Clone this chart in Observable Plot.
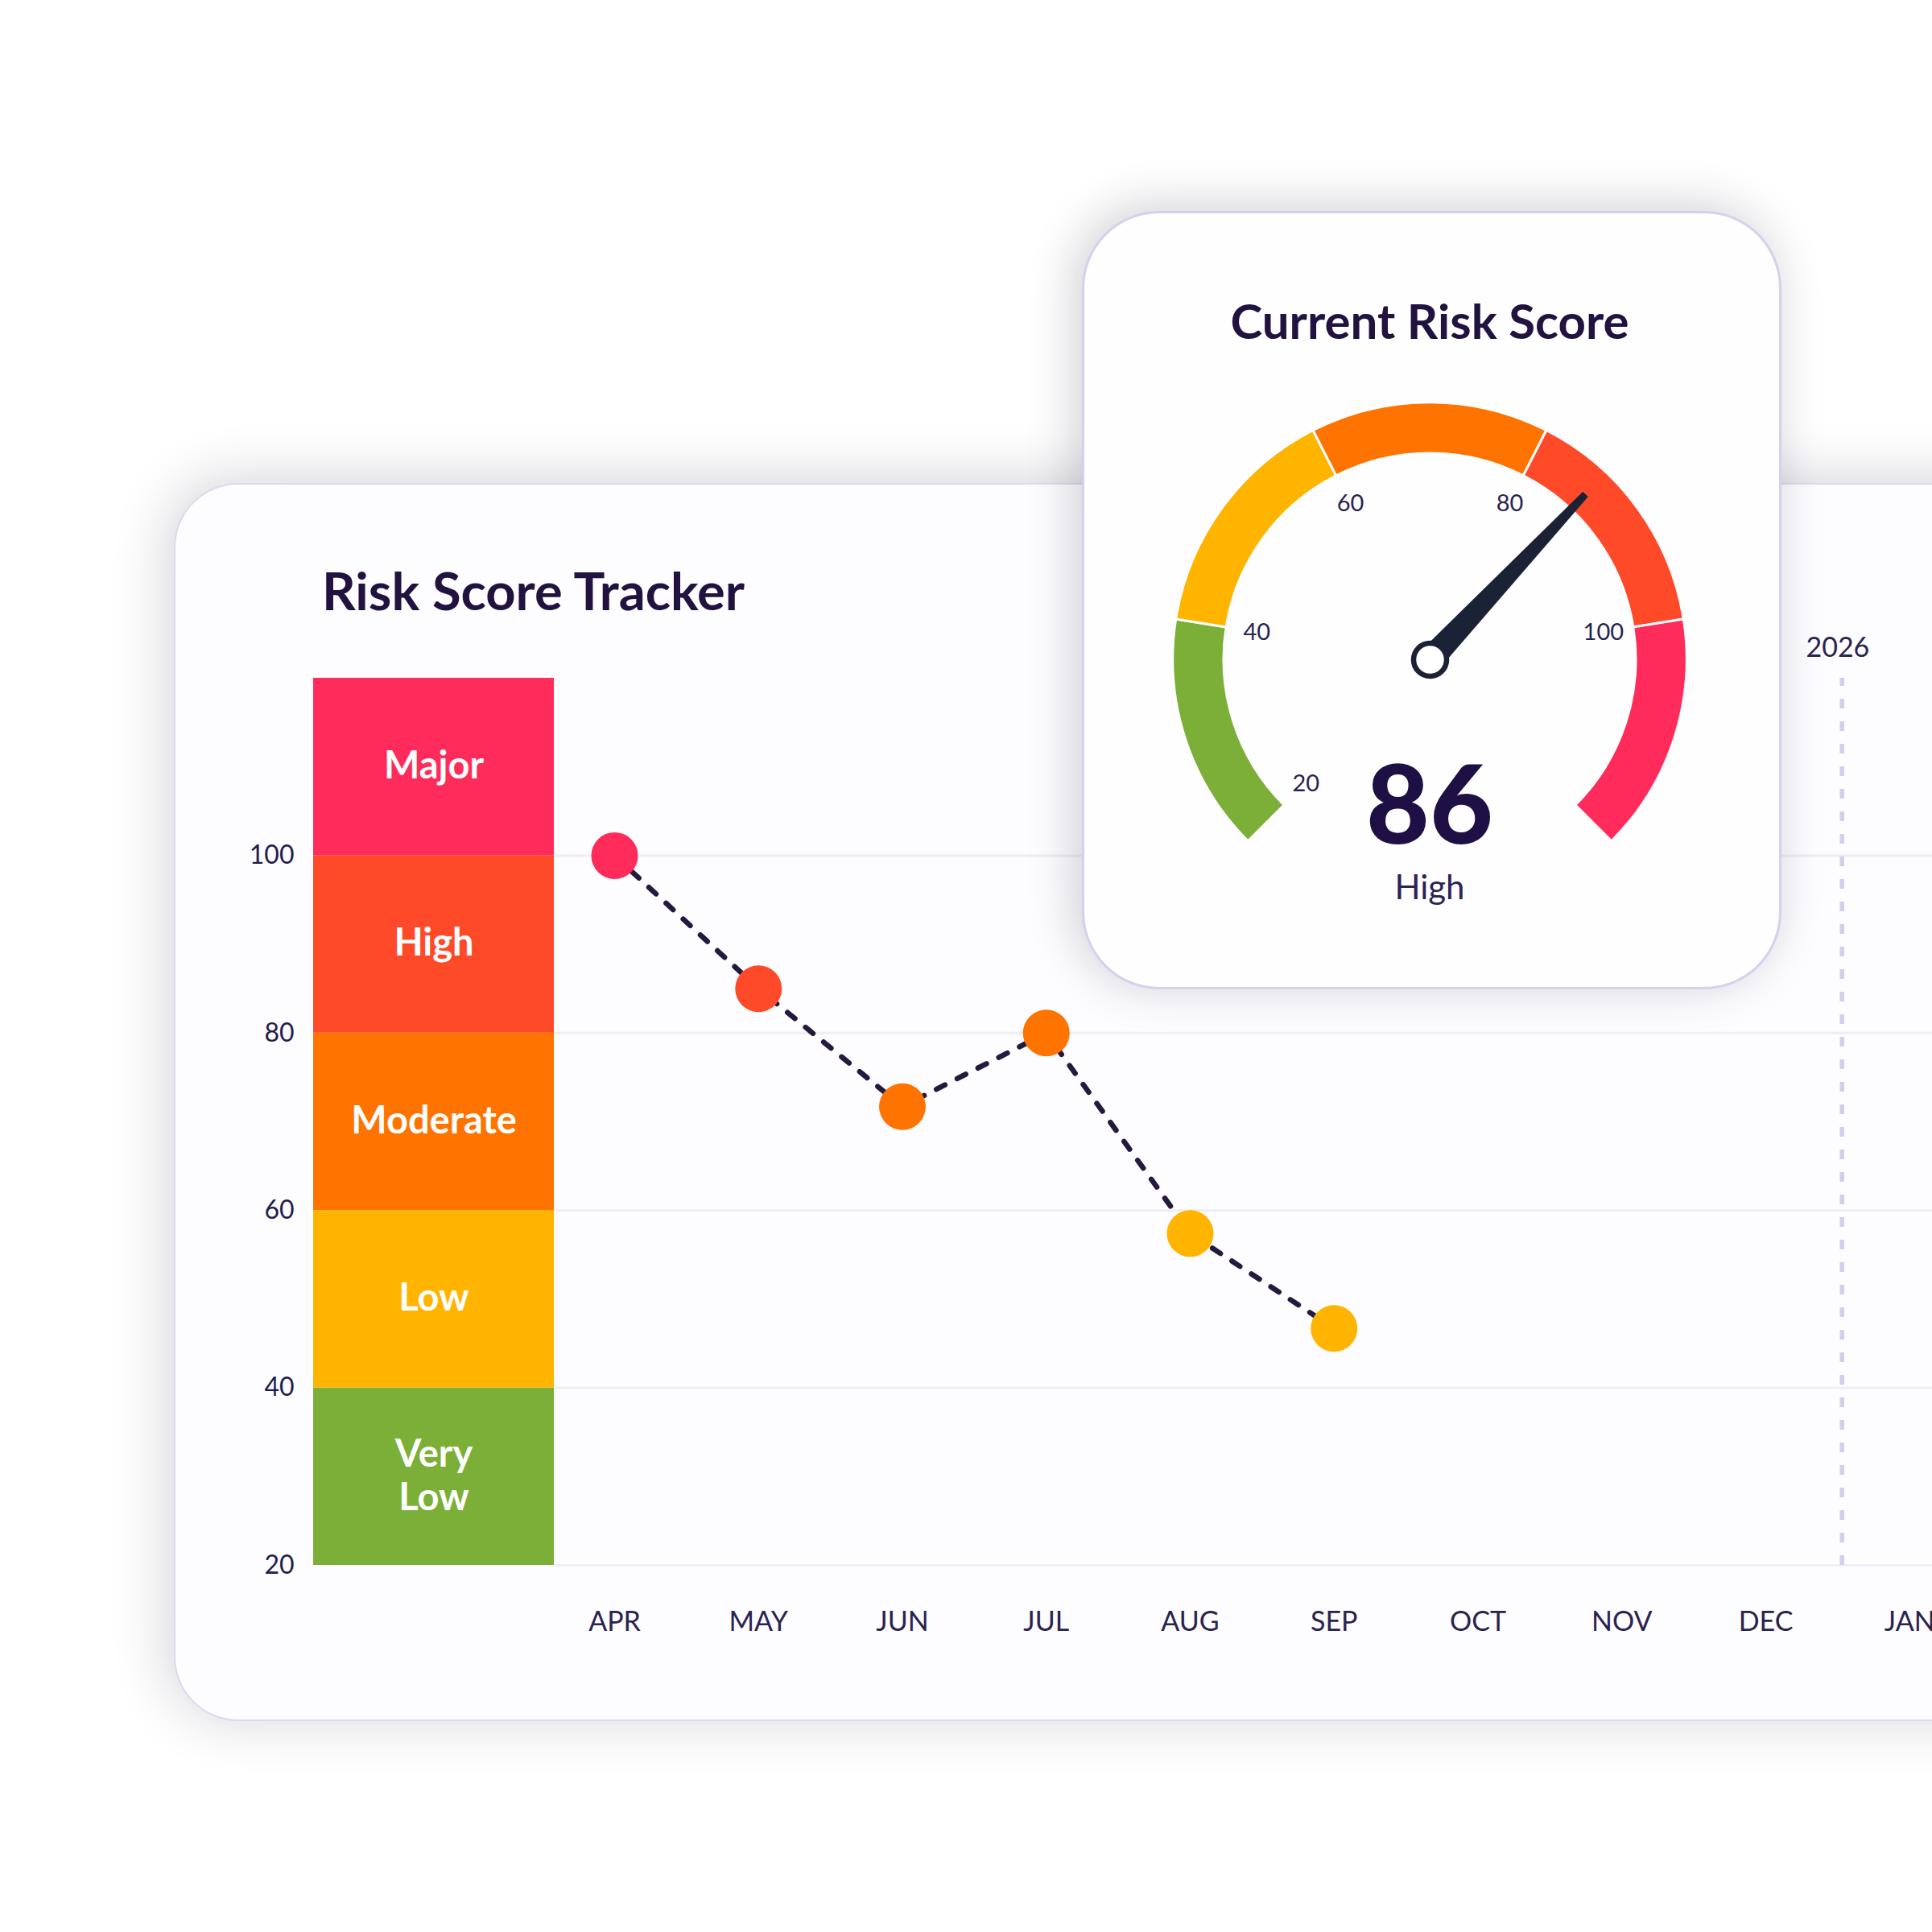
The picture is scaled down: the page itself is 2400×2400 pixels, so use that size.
<!DOCTYPE html>
<html>
<head>
<meta charset="utf-8">
<script src="https://cdn.jsdelivr.net/npm/d3@7"></script>
<script src="https://cdn.jsdelivr.net/npm/@observablehq/plot@0.6"></script>
<style>
html, body { margin: 0; padding: 0; background: #ffffff; }
body { width: 2400px; height: 2400px; position: relative; overflow: hidden; font-family: Lato, "Open Sans", sans-serif; }
.card { position: absolute; box-sizing: border-box; background: #fdfcfe; }
#mainCard { left: 216px; top: 600px; width: 2400px; height: 1538px; border-radius: 80px; border: 2px solid #dcd9ef; box-shadow: -6px -4px 70px rgba(20,15,40,0.19); }
#gaugeCard { left: 1344px; top: 262px; width: 869px; height: 967px; border-radius: 96px; border: 3px solid #d5d1ec; box-shadow: -8px -6px 60px rgba(20,15,40,0.2); background: #fefeff; }
.abs { position: absolute; }
.t { position: absolute; line-height: 1; white-space: nowrap; color: #22123f; font-family: Lato, sans-serif; }
svg { max-width: none !important; }
</style>
</head>
<body>
<div id="mainCard" class="card"></div>
<div id="title" class="t" style="left:400px; top:701px; font-size:65px; font-weight:700;"></div>
<div id="bandPlot" class="abs" style="left:289px; top:780px; width:399px; height:1250px;"></div>
<div id="linePlot" class="abs" style="left:688px; top:780px; width:1712px; height:1250px;"></div>
<div id="gaugeCard" class="card"></div>
<div id="gaugeTitle" class="t" style="left:1376px; width:800px; text-align:center; top:368px; font-size:60px; font-weight:700;"></div>
<div id="gaugePlot" class="abs" style="left:1344px; top:262px; width:869px; height:967px;"></div>
<div id="gaugeValue" class="t" style="left:1376px; width:800px; text-align:center; top:928px; font-size:136px; font-weight:900; color:#1e0f45;"></div>
<div id="gaugeLevel" class="t" style="left:1376px; width:800px; text-align:center; top:1080px; font-size:42px; font-weight:400; color:#2c2257;"></div>
<script>
// ---------- data ----------
const chartTitle = "Risk Score Tracker";
const gaugeTitleText = "Current Risk Score";

const levels = ["Very Low", "Low", "Moderate", "High", "Major"];
const levelLabels = ["Very\nLow", "Low", "Moderate", "High", "Major"];
const levelLows = [20, 40, 60, 80, 100];
const levelHighs = [40, 60, 80, 100, 120];
const levelColors = ["#7caf37", "#ffb400", "#ff7300", "#ff4a2a", "#ff2b5a"];

const yTicks = [20, 40, 60, 80, 100];
const months = ["APR", "MAY", "JUN", "JUL", "AUG", "SEP", "OCT", "NOV", "DEC", "JAN"];

const scoreMonths = ["APR", "MAY", "JUN", "JUL", "AUG", "SEP"];
const scores = [100, 85, 71.7, 80, 57.4, 46.7];
const scoreLevels = ["Major", "High", "Moderate", "Moderate", "Low", "Low"];

const yearLabel = "2026";
const yearMarker = 8.53; // start of 2026, between DEC and JAN

const gaugeScore = 86;
const gaugeLevel = "High";
const gaugeTicks = [20, 40, 60, 80, 100];
const gaugeDomain = [20, 120];

// ---------- derived tables ----------
const bandData = levels.map((l, i) => ({level: l, label: levelLabels[i], lo: levelLows[i], hi: levelHighs[i]}));
const scoreData = scoreMonths.map((m, i) => ({month: m, mi: months.indexOf(m), score: scores[i], level: scoreLevels[i]}));

const ink = "#231c4d";
const colorOpts = {domain: levels, range: levelColors};
const baseStyle = {fontFamily: "Lato, sans-serif", fontSize: "32px", color: ink, background: "transparent", overflow: "visible", maxWidth: "none"};

document.getElementById("title").textContent = chartTitle;
document.getElementById("gaugeTitle").textContent = gaugeTitleText;
document.getElementById("gaugeValue").textContent = String(gaugeScore);
document.getElementById("gaugeLevel").textContent = gaugeLevel;

// ---------- band (risk levels) ----------
const bandPlot = Plot.plot({
  width: 399, height: 1250,
  marginLeft: 100, marginRight: 0, marginTop: 62, marginBottom: 86,
  x: {type: "band", domain: ["Risk"], padding: 0, axis: null},
  y: {domain: [20, 120], label: null},
  color: colorOpts,
  style: baseStyle,
  marks: [
    Plot.barY(bandData, {x: () => "Risk", y1: "lo", y2: "hi", fill: "level"}),
    Plot.text(bandData, {x: () => "Risk", y: d => (d.lo + d.hi) / 2, dy: -3, text: "label", fill: "white", fontSize: 47, fontWeight: 700, lineHeight: 1.15}),
    Plot.axisY(yTicks, {tickSize: 0, tickPadding: 24, fontSize: 32, color: ink, label: null})
  ]
});
document.getElementById("bandPlot").append(bandPlot);

// ---------- line tracker ----------
const linePlot = Plot.plot({
  width: 1712, height: 1250,
  marginLeft: 0, marginRight: 0, marginTop: 62, marginBottom: 86,
  x: {domain: [-0.4196, 9.158]},
  y: {domain: [20, 120], axis: null},
  color: colorOpts,
  style: baseStyle,
  marks: [
    Plot.ruleY(yTicks, {stroke: "#efedf6", strokeWidth: 3}),
    Plot.ruleX([yearMarker], {y1: 20, y2: 120, stroke: "#d2cfe8", strokeWidth: 5.5, strokeDasharray: "12,16"}),
    Plot.text([yearLabel], {x: yearMarker - 0.03, y: 120, dy: -37, text: d => d, fontSize: 34, fill: "#2a2350"}),
    Plot.line(scoreData, {x: "mi", y: "score", stroke: "#25193f", strokeWidth: 6.5, strokeDasharray: "12,17", strokeLinecap: "round"}),
    Plot.dot(scoreData, {x: "mi", y: "score", r: 29, fill: "level"}),
    Plot.axisX(months.map((m, i) => i), {tickSize: 0, tickPadding: 57, fontSize: 34, tickFormat: i => months[i], color: "#2a2350", label: null})
  ]
});
document.getElementById("linePlot").append(linePlot);

// ---------- gauge ----------
const gaugeAngle = d3.scaleLinear(gaugeDomain, [-135, 135]);
const rad = a => a * Math.PI / 180;
const labelR = 0.6855;
const innerR = 0.805;

function gaugeArcs(index, scales) {
  const cx = scales.x(0), cy = scales.y(0), unit = scales.x(1) - scales.x(0);
  const color = scales.color ?? d3.scaleOrdinal(levels, levelColors);
  const arc = d3.arc().innerRadius(unit * innerR).outerRadius(unit * 1.004);
  const g = d3.create("svg:g").attr("transform", `translate(${cx},${cy})`);
  g.selectAll("path").data(bandData).join("path")
    .attr("d", d => arc({startAngle: rad(gaugeAngle(d.lo)), endAngle: rad(gaugeAngle(d.hi))}))
    .attr("fill", d => color(d.level))
    .attr("stroke", "#fefeff")
    .attr("stroke-width", 3);
  return g.node();
}

// tapered needle with a blunt tip
const needleShape = {
  draw(context, l, r) {
    context.moveTo(-r, 0);
    context.lineTo(-r * 0.28, -l);
    context.lineTo(r * 0.28, -l);
    context.lineTo(r, 0);
    context.closePath();
  }
};
let needle;
const needleOpts = {x: 0, y: 0, rotate: d => gaugeAngle(d), length: 282, anchor: "start", r: 16, fill: "#1b2236", stroke: "none"};
try {
  needle = Plot.vector([gaugeScore], {...needleOpts, shape: needleShape});
} catch (e) {
  needle = Plot.vector([gaugeScore], {...needleOpts, shape: "spike"});
}

const gaugePlot = Plot.plot({
  width: 869, height: 967,
  marginLeft: 114, marginRight: 119, marginTop: 239, marginBottom: 92,
  x: {domain: [-1, 1], axis: null},
  y: {domain: [-1, 1], axis: null},
  color: colorOpts,
  style: baseStyle,
  marks: [
    gaugeArcs,
    Plot.text(gaugeTicks, {
      x: d => labelR * Math.sin(rad(gaugeAngle(d))),
      y: d => labelR * Math.cos(rad(gaugeAngle(d))),
      text: d => String(d), fontSize: 29, fill: "#2a2350"
    }),
    needle,
    Plot.dot([gaugeScore], {x: 0, y: 0, r: 20.5, fill: "white", stroke: "#1b2236", strokeWidth: 6.5})
  ]
});
document.getElementById("gaugePlot").append(gaugePlot);
</script>
</body>
</html>
